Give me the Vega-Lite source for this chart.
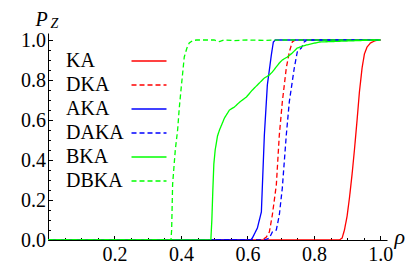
{
  "$schema": "https://vega.github.io/schema/vega-lite/v6.json",
  "width": 339,
  "height": 207,
  "autosize": "none",
  "padding": {"left": 48, "top": 33, "right": 26, "bottom": 21},
  "background": "white",
  "config": {
    "view": {"stroke": null},
    "font": "Liberation Serif",
    "axis": {"grid": false, "domainColor": "black", "tickColor": "black", "labelColor": "black", "labelFont": "Liberation Serif", "labelFontSize": 20, "domainWidth": 1, "tickWidth": 1},
    "legend": {"labelFont": "Liberation Serif"}
  },
  "data": {"values": [
    {"s":"KA","x":0,"y":0},{"s":"KA","x":0.877,"y":0},{"s":"KA","x":0.885,"y":0.01},{"s":"KA","x":0.892,"y":0.05},{"s":"KA","x":0.9,"y":0.12},{"s":"KA","x":0.907,"y":0.21},{"s":"KA","x":0.915,"y":0.33},{"s":"KA","x":0.922,"y":0.45},{"s":"KA","x":0.93,"y":0.6},{"s":"KA","x":0.937,"y":0.74},{"s":"KA","x":0.945,"y":0.86},{"s":"KA","x":0.952,"y":0.93},{"s":"KA","x":0.96,"y":0.965},{"s":"KA","x":0.97,"y":0.985},{"s":"KA","x":0.985,"y":0.997},{"s":"KA","x":1.0,"y":1.0},
    {"s":"DKA","x":0,"y":0},{"s":"DKA","x":0.645,"y":0},{"s":"DKA","x":0.657,"y":0.015},{"s":"DKA","x":0.666,"y":0.04},{"s":"DKA","x":0.675,"y":0.125},{"s":"DKA","x":0.687,"y":0.275},{"s":"DKA","x":0.696,"y":0.525},{"s":"DKA","x":0.705,"y":0.69},{"s":"DKA","x":0.717,"y":0.86},{"s":"DKA","x":0.726,"y":0.94},{"s":"DKA","x":0.735,"y":0.99},{"s":"DKA","x":0.744,"y":1.0},{"s":"DKA","x":1.0,"y":1.0},
    {"s":"AKA","x":0,"y":0},{"s":"AKA","x":0.61,"y":0},{"s":"AKA","x":0.615,"y":0.01},{"s":"AKA","x":0.63,"y":0.06},{"s":"AKA","x":0.642,"y":0.14},{"s":"AKA","x":0.651,"y":0.525},{"s":"AKA","x":0.66,"y":0.775},{"s":"AKA","x":0.672,"y":0.925},{"s":"AKA","x":0.678,"y":0.99},{"s":"AKA","x":0.684,"y":1.0},{"s":"AKA","x":1.0,"y":1.0},
    {"s":"DAKA","x":0,"y":0},{"s":"DAKA","x":0.651,"y":0},{"s":"DAKA","x":0.666,"y":0.01},{"s":"DAKA","x":0.675,"y":0.04},{"s":"DAKA","x":0.687,"y":0.05},{"s":"DAKA","x":0.696,"y":0.125},{"s":"DAKA","x":0.705,"y":0.26},{"s":"DAKA","x":0.717,"y":0.525},{"s":"DAKA","x":0.726,"y":0.69},{"s":"DAKA","x":0.741,"y":0.86},{"s":"DAKA","x":0.75,"y":0.94},{"s":"DAKA","x":0.762,"y":0.96},{"s":"DAKA","x":0.771,"y":0.99},{"s":"DAKA","x":0.78,"y":1.0},{"s":"DAKA","x":1.0,"y":1.0},
    {"s":"BKA","x":0,"y":0},{"s":"BKA","x":0.49,"y":0},{"s":"BKA","x":0.493,"y":0.1},{"s":"BKA","x":0.496,"y":0.25},{"s":"BKA","x":0.499,"y":0.38},{"s":"BKA","x":0.503,"y":0.45},{"s":"BKA","x":0.51,"y":0.52},{"s":"BKA","x":0.516,"y":0.55},{"s":"BKA","x":0.531,"y":0.61},{"s":"BKA","x":0.546,"y":0.65},{"s":"BKA","x":0.561,"y":0.665},{"s":"BKA","x":0.577,"y":0.69},{"s":"BKA","x":0.597,"y":0.715},{"s":"BKA","x":0.615,"y":0.75},{"s":"BKA","x":0.636,"y":0.785},{"s":"BKA","x":0.651,"y":0.81},{"s":"BKA","x":0.666,"y":0.825},{"s":"BKA","x":0.675,"y":0.84},{"s":"BKA","x":0.696,"y":0.885},{"s":"BKA","x":0.705,"y":0.9},{"s":"BKA","x":0.72,"y":0.915},{"s":"BKA","x":0.735,"y":0.935},{"s":"BKA","x":0.75,"y":0.96},{"s":"BKA","x":0.777,"y":0.975},{"s":"BKA","x":0.817,"y":0.99},{"s":"BKA","x":0.9,"y":0.995},{"s":"BKA","x":0.98,"y":1.0},{"s":"BKA","x":1.0,"y":1.0},
    {"s":"DBKA","x":0,"y":0},{"s":"DBKA","x":0.37,"y":0},{"s":"DBKA","x":0.372,"y":0.05},{"s":"DBKA","x":0.375,"y":0.28},{"s":"DBKA","x":0.383,"y":0.45},{"s":"DBKA","x":0.39,"y":0.55},{"s":"DBKA","x":0.395,"y":0.66},{"s":"DBKA","x":0.401,"y":0.765},{"s":"DBKA","x":0.41,"y":0.915},{"s":"DBKA","x":0.418,"y":0.96},{"s":"DBKA","x":0.425,"y":0.985},{"s":"DBKA","x":0.435,"y":0.997},{"s":"DBKA","x":0.447,"y":1.0},{"s":"DBKA","x":0.5,"y":1.0},{"s":"DBKA","x":0.516,"y":0.992},{"s":"DBKA","x":0.53,"y":1.0},{"s":"DBKA","x":0.56,"y":0.997},{"s":"DBKA","x":0.6,"y":1.0},{"s":"DBKA","x":0.65,"y":0.998},{"s":"DBKA","x":0.7,"y":1.0},{"s":"DBKA","x":1.0,"y":1.0}
  ]},
  "layer": [
    {
      "mark": {"type": "line", "opacity": 0},
      "encoding": {
        "x": {"field": "x", "type": "quantitative", "scale": {"domain": [0, 1.02], "nice": false, "zero": false},
          "axis": {"orient": "bottom", "values": [0.05,0.1,0.15,0.25,0.3,0.35,0.45,0.5,0.55,0.65,0.7,0.75,0.85,0.9,0.95], "labels": false, "domain": false, "tickSize": -2.5, "title": null}},
        "y": {"field": "y", "type": "quantitative", "scale": {"domain": [0, 1.035], "nice": false},
          "axis": {"orient": "left", "values": [0.05,0.1,0.15,0.25,0.3,0.35,0.45,0.5,0.55,0.65,0.7,0.75,0.85,0.9,0.95], "labels": false, "domain": false, "tickSize": -2.5, "title": "Z", "titleFont": "Liberation Serif", "titleFontStyle": "italic", "titleFontWeight": "normal", "titleFontSize": 14, "titleAngle": 0, "titleX": 2, "titleY": -6, "titleAlign": "left", "titleBaseline": "alphabetic", "titleColor": "black"}},
        "detail": {"field": "s"}
      }
    },
    {
      "mark": {"type": "line", "strokeWidth": 1.3, "clip": true},
      "encoding": {
        "x": {"field": "x", "type": "quantitative",
          "axis": {"orient": "bottom", "values": [0, 0.2, 0.4, 0.6, 0.8, 1.0], "labelExpr": "datum.value == 0 ? '' : format(datum.value, '.1f')", "tickSize": -4.5, "labelPadding": 9, "title": "ρ", "titleFont": "Liberation Serif", "titleFontStyle": "italic", "titleFontWeight": "normal", "titleFontSize": 22, "titleX": 346, "titleY": 3, "titleAlign": "left", "titleBaseline": "alphabetic", "titleColor": "black"}},
        "y": {"field": "y", "type": "quantitative",
          "axis": {"orient": "left", "values": [0, 0.2, 0.4, 0.6, 0.8, 1.0], "format": ".1f", "tickSize": -4.5, "labelPadding": 7, "title": "P", "titleFont": "Liberation Serif", "titleFontStyle": "italic", "titleFontWeight": "normal", "titleFontSize": 20, "titleAngle": 0, "titleX": -13, "titleY": -8, "titleAlign": "left", "titleBaseline": "alphabetic", "titleColor": "black"}},
        "color": {"field": "s", "type": "nominal", "title": null,
          "scale": {"domain": ["KA","DKA","AKA","DAKA","BKA","DBKA"], "range": ["#ff0000","#ff0000","#0000ff","#0000ff","#00ff00","#00ff00"]},
          "legend": {"orient": "none", "legendX": 91, "legendY": 18, "symbolType": "M-2,0H2", "symbolSize": 306, "symbolStrokeWidth": 1.3, "labelOffset": -93, "labelFontSize": 20, "labelColor": "black", "rowPadding": 4, "labelLimit": 0}},
        "strokeDash": {"field": "s", "type": "nominal", "title": null,
          "scale": {"domain": ["KA","DKA","AKA","DAKA","BKA","DBKA"], "range": [[1,0],[5,3],[1,0],[5,3],[1,0],[5,3]]}}
      }
    }
  ],
  "resolve": {"axis": {"x": "independent", "y": "independent"}}
}
